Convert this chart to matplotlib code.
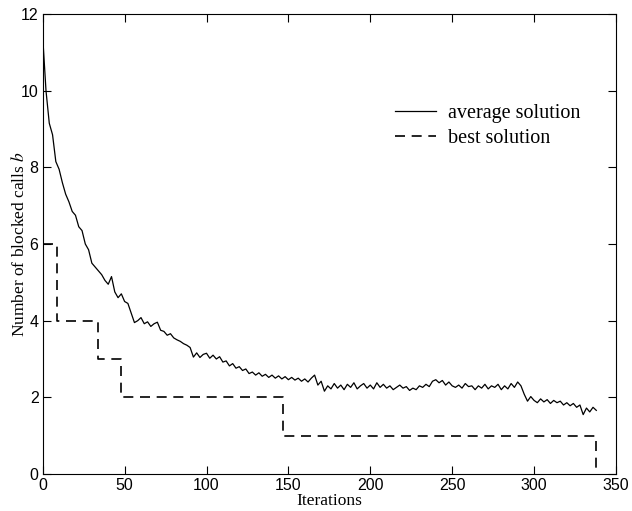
import numpy as np
import matplotlib
matplotlib.use('Agg')
import matplotlib.pyplot as plt

plt.rcParams['mathtext.fontset'] = 'stix'

# average solution, read every 2 iterations (0 .. 338)
avg = [11.40, 10.00, 9.15, 8.85, 8.15, 7.95, 7.60, 7.30, 7.10, 6.85,
       6.75, 6.45, 6.35, 6.00, 5.85, 5.50, 5.40, 5.30, 5.20, 5.05,
       4.95, 5.15, 4.75, 4.60, 4.70, 4.50, 4.45, 4.20, 3.95, 4.00,
       4.08, 3.92, 3.97, 3.85, 3.92, 3.96, 3.75, 3.72, 3.62, 3.66,
       3.55, 3.50, 3.46, 3.40, 3.36, 3.30, 3.05, 3.16, 3.04, 3.12,
       3.15, 3.02, 3.10, 3.00, 3.06, 2.92, 2.95, 2.82, 2.88, 2.76,
       2.80, 2.70, 2.74, 2.62, 2.66, 2.58, 2.64, 2.55, 2.60, 2.52,
       2.58, 2.50, 2.56, 2.48, 2.54, 2.46, 2.52, 2.45, 2.50, 2.42,
       2.48, 2.40, 2.50, 2.58, 2.32, 2.42, 2.16, 2.30, 2.22, 2.36,
       2.24, 2.32, 2.20, 2.34, 2.26, 2.38, 2.22, 2.30, 2.36, 2.24,
       2.32, 2.22, 2.38, 2.26, 2.34, 2.24, 2.30, 2.20, 2.26, 2.32,
       2.24, 2.28, 2.18, 2.24, 2.20, 2.30, 2.26, 2.34, 2.28, 2.42,
       2.46, 2.38, 2.44, 2.32, 2.40, 2.30, 2.26, 2.32, 2.24, 2.36,
       2.28, 2.30, 2.20, 2.30, 2.24, 2.34, 2.22, 2.30, 2.26, 2.34,
       2.20, 2.30, 2.22, 2.36, 2.26, 2.40, 2.30, 2.08, 1.90, 2.02,
       1.92, 1.86, 1.96, 1.88, 1.94, 1.84, 1.92, 1.86, 1.90, 1.80,
       1.86, 1.78, 1.84, 1.74, 1.80, 1.55, 1.72, 1.62, 1.74, 1.66]
avg_iter = np.arange(len(avg)) * 2

# best solution (step changes)
best_iter = [0, 8.5, 8.5, 34, 34, 48, 48, 146.5, 146.5, 338, 338]
best_val = [6, 6, 4, 4, 3, 3, 2, 2, 1, 1, 0]

xticks = [0, 50, 100, 150, 200, 250, 300, 350]
yticks = [0, 2, 4, 6, 8, 10, 12]

fig = plt.figure(figsize=(6.32, 5.11), dpi=100)
ax = fig.add_axes([0.0676, 0.0724, 0.907, 0.9002])

ax.plot(avg_iter, avg, color='black', lw=0.9, label='average solution')
ax.plot(best_iter, best_val, color='black', lw=1.2, dashes=(6, 4),
        label='best solution')

ax.set_xlim(0, 350)
ax.set_ylim(0, 12)
ax.set_xticks(xticks)
ax.set_yticks(yticks)
ax.tick_params(direction='in', length=6, width=0.8, top=True, right=True,
               labelsize=11.5, pad=3)
for lbl in ax.get_xticklabels() + ax.get_yticklabels():
    lbl.set_fontfamily('Liberation Sans')
for sp in ax.spines.values():
    sp.set_linewidth(0.8)

ax.set_xlabel('Iterations', family='Liberation Serif', fontsize=12.5, labelpad=0)
ax.set_ylabel('Number of blocked calls $b$', family='Liberation Serif',
              fontsize=12.5, labelpad=-5)

leg = ax.legend(loc='upper left', bbox_to_anchor=(0.60, 0.823),
                borderaxespad=0, frameon=False, handlelength=2.05,
                handletextpad=0.6, labelspacing=0.3,
                prop={'family': 'Liberation Serif', 'size': 14.5})

fig.savefig('out.png', dpi=100)
